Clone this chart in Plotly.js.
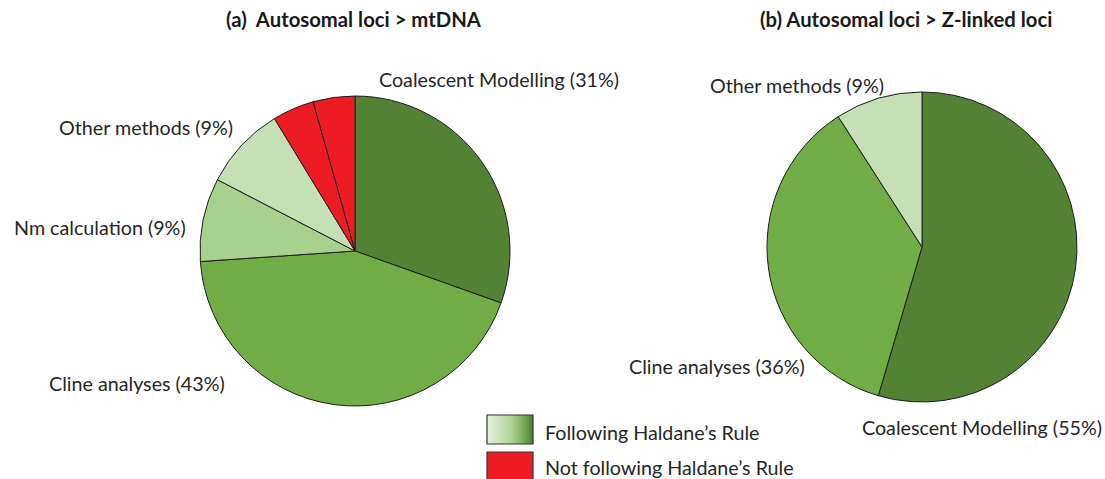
<!DOCTYPE html>
<html>
<head>
<meta charset="utf-8">
<script src="https://cdn.plot.ly/plotly-3.0.1.min.js"></script>
<style>html,body{margin:0;padding:0;background:#fff;}#chart{width:1105px;height:479px;}</style>
</head>
<body>
<div id="chart"></div>
<script>
// Data
const labelsA = ["Coalescent Modelling", "Cline analyses", "Nm calculation", "Other methods", "Not following 1", "Not following 2"];
const valuesA = [7, 10, 2, 2, 1, 1];
const colorsA = ["#548235", "#70AD47", "#A9D18E", "#C5E0B4", "#ED1C24", "#ED1C24"];
const textA = ["Coalescent Modelling (31%)", "Cline analyses (43%)", "Nm calculation (9%)", "Other methods (9%)"];

const labelsB = ["Coalescent Modelling", "Cline analyses", "Other methods"];
const valuesB = [6, 4, 1];
const colorsB = ["#548235", "#70AD47", "#C5E0B4"];
const textB = ["Coalescent Modelling (55%)", "Cline analyses (36%)", "Other methods (9%)"];

const titleA = "(a)  Autosomal loci > mtDNA";
const titleB = "(b) Autosomal loci > Z-linked loci";
const legendLabels = ["Following Haldane’s Rule", "Not following Haldane’s Rule"];

const W = 1105, H = 479;
const px = x => x / W;
const py = y => 1 - y / H;
const FONT = "Lato, 'Open Sans', sans-serif";
const labelFont = {family: FONT, size: 19.7, color: "#262626"};

const lineStyle = {color: "#1e1e1e", width: 1};

const traces = [
  {
    type: "pie", labels: labelsA, values: valuesA, sort: false,
    direction: "clockwise", rotation: 0, textinfo: "none", hoverinfo: "none",
    marker: {colors: colorsA, line: lineStyle}, showlegend: false,
    domain: {x: [px(200), px(510)], y: [py(406), py(96)]}
  },
  {
    type: "pie", labels: labelsB, values: valuesB, sort: false,
    direction: "clockwise", rotation: 0, textinfo: "none", hoverinfo: "none",
    marker: {colors: colorsB, line: lineStyle}, showlegend: false,
    domain: {x: [px(767), px(1077)], y: [py(402), py(92)]}
  }
];

function ann(text, x, y, font, anchor) {
  return {text: text, x: px(x), y: py(y), xref: "paper", yref: "paper",
    xanchor: anchor || "left", yanchor: "middle", showarrow: false, font: font};
}

const titleFont = {family: FONT, size: 20.3, color: "#1a1a1a", weight: "bold"};

const annotations = [
  ann("<b>" + titleA.replace("  ", "&nbsp; ") + "</b>", 354, 19, titleFont, "center"),
  ann("<b>" + titleB + "</b>", 906, 19, titleFont, "center"),
  ann(textA[0], 377, 79, labelFont),
  ann(textA[3], 57, 128, labelFont),
  ann(textA[2], 12, 228, labelFont),
  ann(textA[1], 47, 383, labelFont),
  ann(textB[2], 708, 85, labelFont),
  ann(textB[1], 627, 366, labelFont),
  ann(textB[0], 860, 427, labelFont),
  ann(legendLabels[0], 543, 432, labelFont),
  ann(legendLabels[1], 543, 467, labelFont)
];

const gradSvg = '<svg xmlns="http://www.w3.org/2000/svg" width="100" height="60" preserveAspectRatio="none">' +
  '<defs><linearGradient id="g" x1="0" x2="1" y1="0" y2="0">' +
  '<stop offset="0" stop-color="#E6F1DE"/><stop offset="0.55" stop-color="#AED392"/>' +
  '<stop offset="0.8" stop-color="#76A957"/><stop offset="1" stop-color="#4E7D31"/>' +
  '</linearGradient></defs><rect x="0" y="0" width="100" height="60" fill="url(#g)"/></svg>';

const layout = {
  width: W, height: H,
  margin: {l: 0, r: 0, t: 0, b: 0},
  paper_bgcolor: "#ffffff",
  showlegend: false,
  annotations: annotations,
  images: [{
    source: "data:image/svg+xml;charset=utf-8," + encodeURIComponent(gradSvg),
    xref: "paper", yref: "paper", x: px(487), y: py(415),
    sizex: px(533) - px(487), sizey: py(415) - py(444),
    sizing: "stretch", xanchor: "left", yanchor: "top", layer: "below"
  }],
  shapes: [
    {type: "rect", xref: "paper", yref: "paper", x0: px(487), x1: px(533), y0: py(444), y1: py(415),
      line: {color: "#333333", width: 1.2}, fillcolor: "rgba(0,0,0,0)"},
    {type: "rect", xref: "paper", yref: "paper", x0: px(487), x1: px(533), y0: py(481), y1: py(452),
      line: {color: "#333333", width: 1.2}, fillcolor: "#ED1C24"}
  ]
};

Plotly.newPlot("chart", traces, layout, {displayModeBar: false, staticPlot: true});
</script>
</body>
</html>
